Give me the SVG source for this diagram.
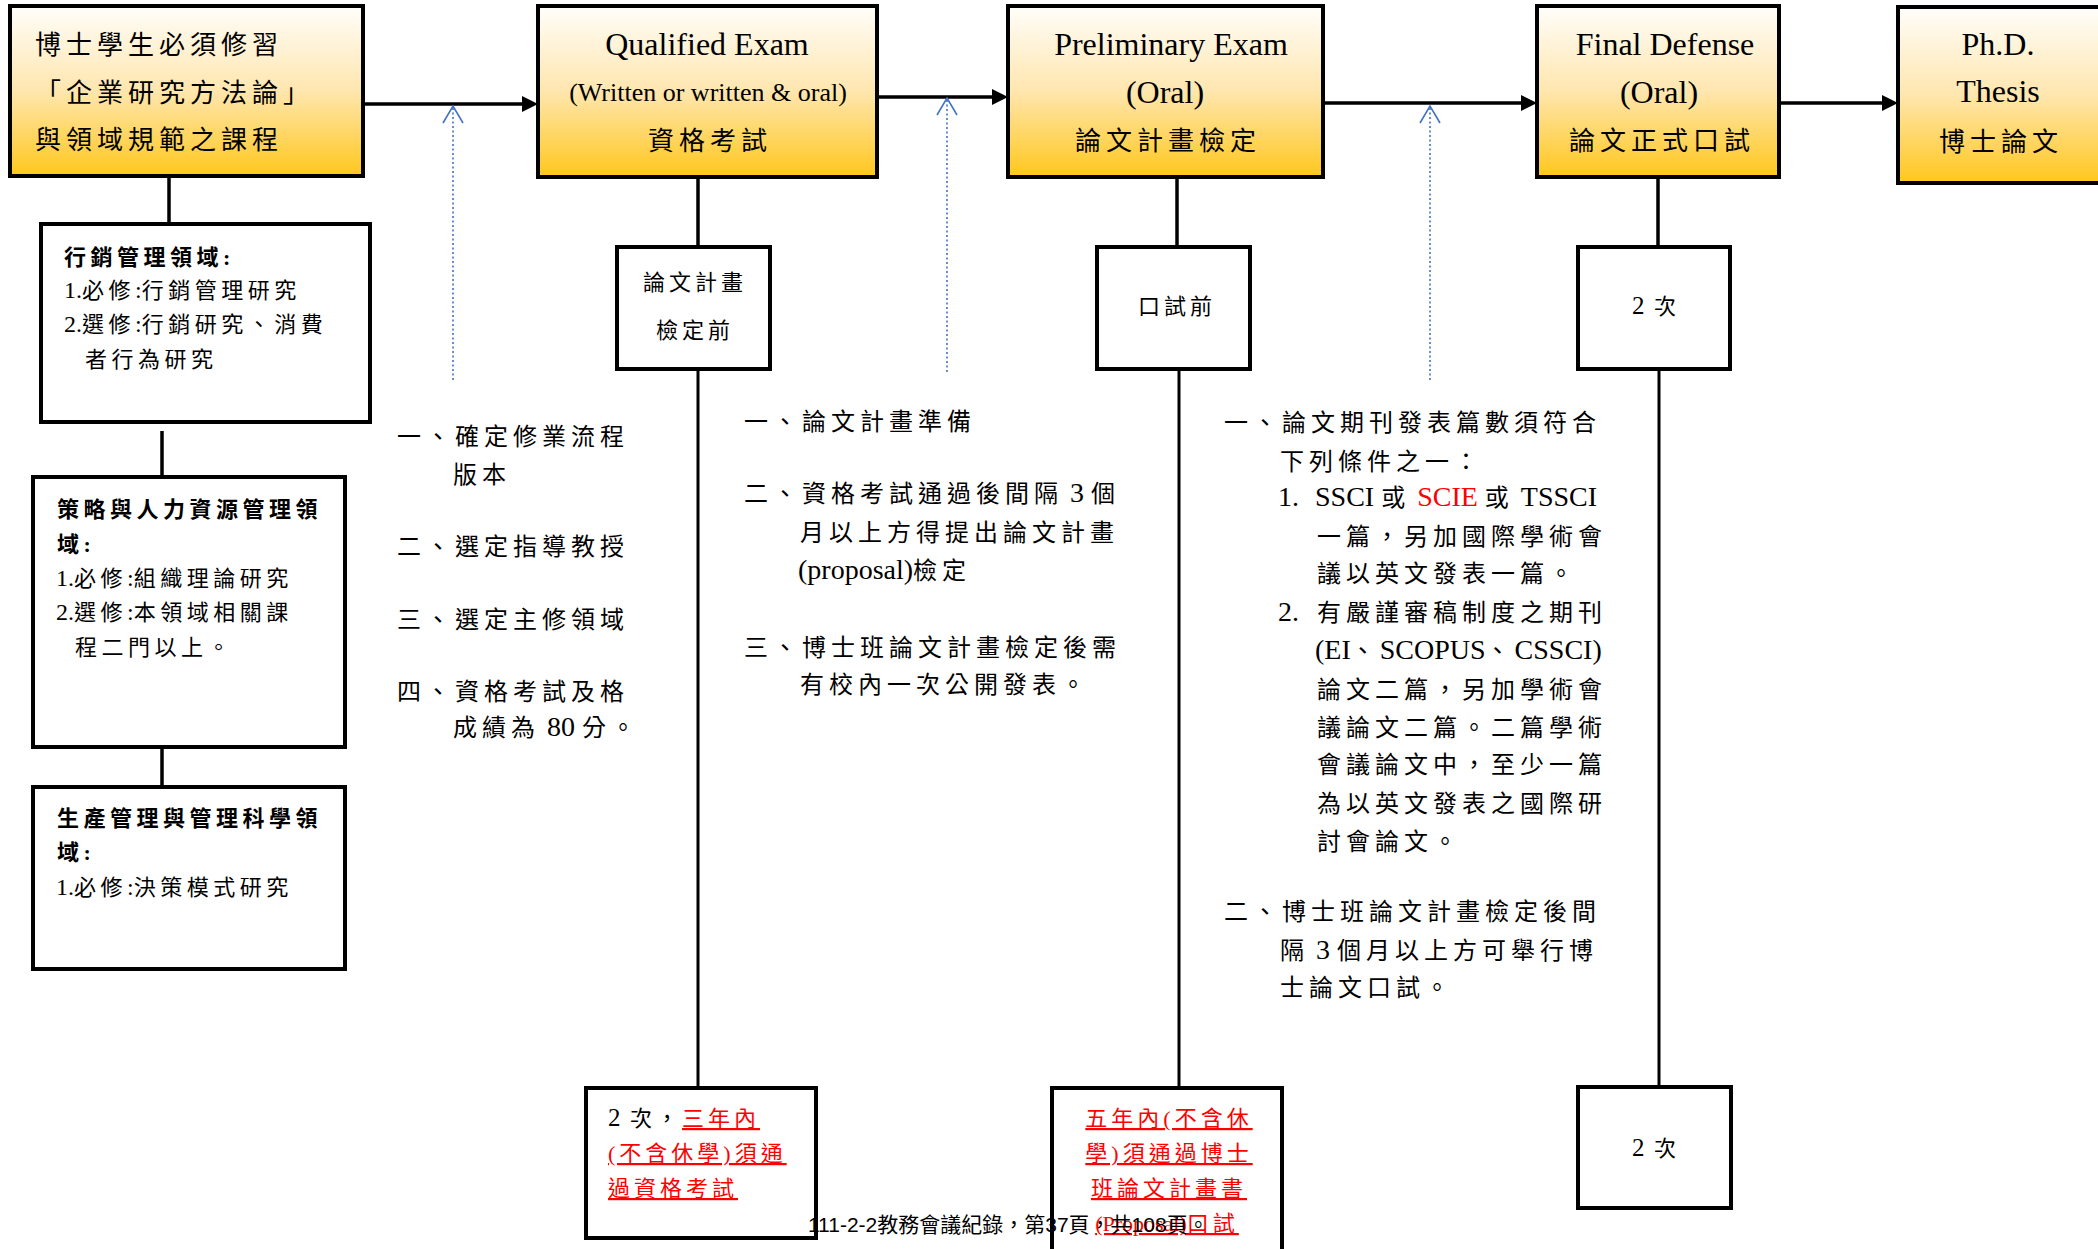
<svg xmlns="http://www.w3.org/2000/svg" width="2098" height="1249" viewBox="0 0 2098 1249">
<defs>
<linearGradient id="gold" x1="0" y1="0" x2="0" y2="1">
<stop offset="0" stop-color="#FFFEFB"/>
<stop offset="0.5" stop-color="#FFE6AE"/>
<stop offset="1" stop-color="#FFC71C"/>
</linearGradient>
<marker id="ah" markerUnits="userSpaceOnUse" markerWidth="16" markerHeight="16" refX="8" refY="8" orient="auto">
<path d="M0,0 L16,8 L0,16 z" fill="#000"/>
</marker>
<marker id="oh" markerUnits="userSpaceOnUse" viewBox="-19 -12 21 24" markerWidth="21" markerHeight="24" refX="0" refY="0" orient="auto">
<path d="M-17,-10 L0,0 L-17,10" fill="none" stroke="#4472C4" stroke-width="1.6"/>
</marker>
</defs>
<style>
.gbox{fill:url(#gold);stroke:#000;stroke-width:4}
.box{fill:#fff;stroke:#000;stroke-width:4}
.conn{stroke:#000;stroke-width:3.5;fill:none}
.thin{stroke:#000;stroke-width:3;fill:none}
.dot{stroke:#4472C4;stroke-width:1.6;stroke-dasharray:2 2.5;fill:none}
text{font-family:"Liberation Serif","Noto Sans CJK TC",serif;fill:#000}
.ttl{font-size:32px;text-anchor:middle}
.tc{font-size:26px;letter-spacing:5px}
.tcm{font-size:26px;letter-spacing:5px;text-anchor:middle}
.sb{font-size:22px;letter-spacing:4.5px}
.b{font-weight:bold}
.col{font-size:24px;letter-spacing:5px}
.lat{font-size:28px;letter-spacing:0px}
.l0{font-size:24px;letter-spacing:0px}
.red{fill:#FF0000}
.u{fill:#FF0000;text-decoration:underline;text-decoration-thickness:3px}
.bx{font-size:22px;letter-spacing:4px}
.foot{font-family:"Liberation Sans","Noto Sans CJK TC",sans-serif;font-size:21px}
</style>
<rect width="2098" height="1249" fill="#fff"/>

<g id="connectors">
<path class="conn" d="M363,104 H530" marker-end="url(#ah)"/>
<path class="conn" d="M877,97 H1000" marker-end="url(#ah)"/>
<path class="conn" d="M1323,103 H1529" marker-end="url(#ah)"/>
<path class="conn" d="M1779,103 H1890" marker-end="url(#ah)"/>
<path class="conn" d="M169,176 V224"/>
<path class="conn" d="M162,431 V477"/>
<path class="conn" d="M162,747 V787"/>
<path class="conn" d="M698,177 V247"/>
<path class="thin" d="M698,369 V1088"/>
<path class="conn" d="M1177,177 V247"/>
<path class="thin" d="M1179,369 V1088"/>
<path class="conn" d="M1658,177 V247"/>
<path class="thin" d="M1659,369 V1087"/>
<path class="dot" d="M453,380 V106" marker-end="url(#oh)"/>
<path class="dot" d="M947,372 V98" marker-end="url(#oh)"/>
<path class="dot" d="M1430,380 V106" marker-end="url(#oh)"/>
</g>

<g id="n1">
<rect class="gbox" x="10" y="6" width="353" height="170"/>
<text class="tc" x="35" y="54">博士學生必須修習</text>
<text class="tc" x="35" y="102">「企業研究方法論」</text>
<text class="tc" x="35" y="149">與領域規範之課程</text>
</g>

<g id="n2">
<rect class="gbox" x="538" y="6" width="339" height="171"/>
<text class="ttl" x="707" y="55">Qualified Exam</text>
<text class="ttl" x="708" y="101" style="font-size:26px">(Written or written &amp; oral)</text>
<text class="tcm" x="710" y="150">資格考試</text>
</g>

<g id="n3">
<rect class="gbox" x="1008" y="6" width="315" height="171"/>
<text class="ttl" x="1171" y="55">Preliminary Exam</text>
<text class="ttl" x="1165" y="103">(Oral)</text>
<text class="tcm" x="1168" y="150">論文計畫檢定</text>
</g>

<g id="n4">
<rect class="gbox" x="1537" y="6" width="242" height="171"/>
<text class="ttl" x="1665" y="55">Final Defense</text>
<text class="ttl" x="1659" y="103">(Oral)</text>
<text class="tcm" x="1662" y="150">論文正式口試</text>
</g>

<g id="n5">
<rect class="gbox" x="1898" y="7" width="210" height="176"/>
<text class="ttl" x="1998" y="55">Ph.D.</text>
<text class="ttl" x="1998" y="102">Thesis</text>
<text class="tcm" x="2001" y="151">博士論文</text>
</g>

<g id="n6">
<rect class="box" x="41" y="224" width="329" height="198"/>
<text class="sb b" x="64" y="265">行銷管理領域:</text>
<text class="sb" x="64" y="298"><tspan class="l0">1.</tspan>必修<tspan class="l0">:</tspan>行銷管理研究</text>
<text class="sb" x="64" y="332"><tspan class="l0">2.</tspan>選修<tspan class="l0">:</tspan>行銷研究、消費</text>
<text class="sb" x="85" y="367">者行為研究</text>
</g>

<g id="n7">
<rect class="box" x="33" y="477" width="312" height="270"/>
<text class="sb b" x="57" y="517">策略與人力資源管理領</text>
<text class="sb b" x="57" y="552">域:</text>
<text class="sb" x="56" y="586"><tspan class="l0">1.</tspan>必修<tspan class="l0">:</tspan>組織理論研究</text>
<text class="sb" x="56" y="620"><tspan class="l0">2.</tspan>選修<tspan class="l0">:</tspan>本領域相關課</text>
<text class="sb" x="75" y="655">程二門以上。</text>
</g>

<g id="n8">
<rect class="box" x="33" y="787" width="312" height="182"/>
<text class="sb b" x="57" y="826">生產管理與管理科學領</text>
<text class="sb b" x="57" y="860">域:</text>
<text class="sb" x="56" y="895"><tspan class="l0">1.</tspan>必修<tspan class="l0">:</tspan>決策模式研究</text>
</g>

<g id="n9">
<rect class="box" x="617" y="247" width="153" height="122"/>
<text class="bx" x="695" y="290" text-anchor="middle">論文計畫</text>
<text class="bx" x="695" y="338" text-anchor="middle">檢定前</text>
</g>

<g id="n10">
<rect class="box" x="1097" y="247" width="153" height="122"/>
<text class="bx" x="1177" y="314" text-anchor="middle">口試前</text>
</g>

<g id="n11">
<rect class="box" x="1578" y="247" width="152" height="122"/>
<text class="bx" x="1656" y="314" text-anchor="middle"><tspan style="font-size:25px;letter-spacing:0">2</tspan> 次</text>
</g>

<g id="n12">
<rect class="box" x="586" y="1088" width="230" height="150"/>
<text class="bx" x="608" y="1126"><tspan style="font-size:25px;letter-spacing:0">2</tspan> 次，<tspan class="u">三年內</tspan></text>
<text class="bx" x="608" y="1161"><tspan class="u">(不含休學)須通</tspan></text>
<text class="bx" x="608" y="1196"><tspan class="u">過資格考試</tspan></text>
</g>

<g id="n13">
<rect class="box" x="1052" y="1088" width="230" height="200"/>
<text class="bx" x="1169" y="1126" text-anchor="middle"><tspan class="u">五年內(不含休</tspan></text>
<text class="bx" x="1169" y="1161" text-anchor="middle"><tspan class="u">學)須通過博士</tspan></text>
<text class="bx" x="1169" y="1196" text-anchor="middle"><tspan class="u">班論文計畫書</tspan></text>
<text class="bx" x="1167" y="1231" text-anchor="middle"><tspan class="u" style="letter-spacing:0">(Proposal)</tspan><tspan class="u">口試</tspan></text>
</g>

<g id="n14">
<rect class="box" x="1578" y="1087" width="153" height="121"/>
<text class="bx" x="1656" y="1156" text-anchor="middle"><tspan style="font-size:25px;letter-spacing:0">2</tspan> 次</text>
</g>

<g id="n15">
<text class="col" x="397" y="445">一、確定修業流程</text>
<text class="col" x="453" y="483">版本</text>
<text class="col" x="397" y="555">二、選定指導教授</text>
<text class="col" x="397" y="628">三、選定主修領域</text>
<text class="col" x="397" y="700">四、資格考試及格</text>
<text class="col" x="453" y="736">成績為<tspan class="lat"> 80 </tspan>分。</text>
</g>

<g id="n16">
<text class="col" x="744" y="430">一、論文計畫準備</text>
<text class="col" x="744" y="502">二、資格考試通過後間隔<tspan class="lat"> 3 </tspan>個</text>
<text class="col" x="800" y="541">月以上方得提出論文計畫</text>
<text class="col" x="798" y="579"><tspan class="lat">(proposal)</tspan>檢定</text>
<text class="col" x="744" y="656">三、博士班論文計畫檢定後需</text>
<text class="col" x="800" y="693">有校內一次公開發表。</text>
</g>

<g id="n17">
<text class="col" x="1224" y="431">一、論文期刊發表篇數須符合</text>
<text class="col" x="1280" y="470">下列條件之一：</text>
<text class="col" x="1278" y="506"><tspan class="lat">1.</tspan></text>
<text class="col" x="1315" y="506"><tspan class="lat">SSCI </tspan>或<tspan class="lat red"> SCIE </tspan>或<tspan class="lat"> TSSCI</tspan></text>
<text class="col" x="1317" y="545">一篇，另加國際學術會</text>
<text class="col" x="1317" y="582">議以英文發表一篇。</text>
<text class="col" x="1278" y="621"><tspan class="lat">2.</tspan></text>
<text class="col" x="1317" y="621">有嚴謹審稿制度之期刊</text>
<text class="col" x="1315" y="659"><tspan class="lat">(EI</tspan>、<tspan class="lat">SCOPUS</tspan>、<tspan class="lat">CSSCI)</tspan></text>
<text class="col" x="1317" y="698">論文二篇，另加學術會</text>
<text class="col" x="1317" y="736">議論文二篇。二篇學術</text>
<text class="col" x="1317" y="773">會議論文中，至少一篇</text>
<text class="col" x="1317" y="812">為以英文發表之國際研</text>
<text class="col" x="1317" y="850">討會論文。</text>
<text class="col" x="1224" y="920">二、博士班論文計畫檢定後間</text>
<text class="col" x="1280" y="959">隔<tspan class="lat"> 3 </tspan>個月以上方可舉行博</text>
<text class="col" x="1280" y="996">士論文口試。</text>
</g>

<text class="foot" x="808" y="1232">111-2-2教務會議紀錄，第37頁，共108頁。</text>
</svg>
